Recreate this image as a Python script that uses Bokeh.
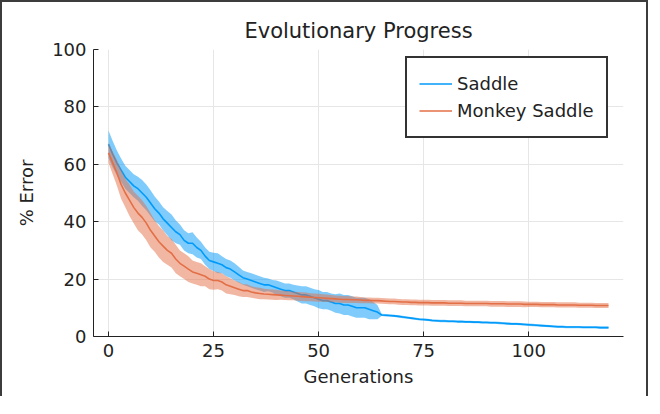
from bokeh.plotting import figure
from bokeh.models import Range1d, FixedTicker, Legend, LegendItem
from bokeh.embed import file_html
from bokeh.resources import INLINE

# ---------------- data ----------------
generations = list(range(120))

saddle_mean = [
    67.0, 63.5, 60.5, 58.0, 55.5, 54.0, 52.5, 51.5, 50.0, 48.5,
    46.5, 44.5, 43.0, 41.0, 39.5, 38.0, 36.5, 35.5, 33.5, 32.5,
    32.5, 31.0, 30.0, 28.0, 26.5, 26.0, 25.5, 25.0, 24.0, 23.5,
    22.5, 21.5, 20.5, 20.0, 19.5, 19.0, 18.5, 18.0, 18.0, 17.5,
    17.0, 16.5, 16.0, 16.0, 15.5, 15.0, 14.5, 14.5, 14.0, 13.5,
    13.0, 12.5, 12.5, 12.0, 11.5, 11.5, 11.0, 11.0, 10.5, 10.0,
    10.0, 10.0, 9.5, 9.0, 8.5, 7.5, 7.4, 7.3, 7.2, 7.0,
    6.8, 6.6, 6.4, 6.2, 6.0, 5.9, 5.8, 5.6, 5.5, 5.4,
    5.4, 5.3, 5.3, 5.2, 5.2, 5.1, 5.1, 5.0, 5.0, 4.9,
    4.9, 4.8, 4.8, 4.7, 4.6, 4.5, 4.4, 4.4, 4.3, 4.2,
    4.1, 4.0, 3.9, 3.8, 3.7, 3.6, 3.5, 3.4, 3.4, 3.3,
    3.3, 3.3, 3.3, 3.2, 3.2, 3.2, 3.2, 3.1, 3.1, 3.1,
]
saddle_err = [
    4.8, 4.6, 4.3, 4.0, 4.0, 4.0, 4.0, 4.2, 4.5, 4.5,
    4.5, 4.3, 4.0, 4.0, 4.2, 4.5, 4.0, 3.5, 3.5, 3.5,
    3.8, 3.5, 3.0, 3.0, 3.0, 3.2, 3.5, 3.0, 3.0, 3.0,
    3.0, 2.8, 2.5, 2.5, 2.5, 2.5, 2.5, 2.5, 2.2, 2.2,
    2.5, 2.5, 2.5, 2.5, 2.5, 2.8, 3.0, 3.0, 3.0, 3.0,
    3.2, 3.0, 3.0, 3.0, 3.2, 3.5, 3.5, 3.5, 3.5, 3.5,
    3.5, 3.5, 3.5, 3.0, 2.5, 0.4, 0.4, 0.4, 0.4, 0.4,
    0.4, 0.4, 0.4, 0.4, 0.4, 0.4, 0.4, 0.4, 0.4, 0.4,
    0.4, 0.4, 0.4, 0.4, 0.4, 0.4, 0.4, 0.4, 0.4, 0.4,
    0.4, 0.4, 0.4, 0.4, 0.4, 0.4, 0.4, 0.4, 0.4, 0.4,
    0.4, 0.4, 0.4, 0.4, 0.4, 0.4, 0.4, 0.4, 0.4, 0.4,
    0.4, 0.4, 0.4, 0.4, 0.4, 0.4, 0.4, 0.4, 0.4, 0.4,
]
monkey_mean = [
    64.0, 60.5, 57.0, 53.0, 50.0, 47.5, 45.0, 43.0, 41.5, 39.5,
    37.0, 35.0, 33.0, 31.5, 30.0, 29.0, 27.0, 25.5, 24.5, 23.5,
    22.5, 22.0, 21.5, 21.0, 20.0, 19.5, 19.5, 19.0, 18.0, 17.5,
    17.0, 16.5, 16.0, 16.0, 15.5, 15.2, 15.0, 14.8, 14.7, 14.6,
    14.5, 14.4, 14.3, 14.2, 14.1, 14.0, 13.9, 13.8, 13.7, 13.6,
    13.5, 13.4, 13.3, 13.2, 13.1, 13.0, 12.9, 12.9, 12.8, 12.8,
    12.7, 12.6, 12.6, 12.5, 12.5, 12.4, 12.3, 12.2, 12.2, 12.1,
    12.0, 12.0, 11.9, 11.9, 11.8, 11.8, 11.8, 11.7, 11.7, 11.7,
    11.7, 11.6, 11.6, 11.6, 11.6, 11.5, 11.5, 11.5, 11.5, 11.5,
    11.5, 11.4, 11.4, 11.4, 11.4, 11.3, 11.3, 11.3, 11.3, 11.2,
    11.2, 11.2, 11.2, 11.1, 11.1, 11.1, 11.1, 11.0, 11.0, 11.0,
    11.0, 11.0, 10.9, 10.9, 10.9, 10.9, 10.8, 10.8, 10.8, 10.8,
]
monkey_err = [
    3.5, 4.0, 4.5, 5.0, 5.0, 5.5, 5.5, 6.0, 6.0, 6.0,
    6.0, 5.5, 5.5, 5.5, 5.0, 5.0, 5.0, 4.5, 4.5, 4.5,
    4.0, 4.0, 4.0, 3.5, 3.5, 3.2, 3.0, 3.0, 3.0, 2.8,
    2.5, 2.5, 2.2, 2.2, 2.0, 2.0, 2.0, 1.8, 1.8, 1.8,
    1.8, 1.6, 1.6, 1.6, 1.5, 1.5, 1.5, 1.5, 1.4, 1.4,
    1.4, 1.3, 1.3, 1.3, 1.2, 1.2, 1.2, 1.2, 1.1, 1.1,
    1.1, 1.0, 1.0, 1.0, 1.0, 1.0, 1.0, 1.0, 1.0, 1.0,
    1.0, 1.0, 1.0, 1.0, 1.0, 1.0, 1.0, 1.0, 1.0, 1.0,
    1.0, 1.0, 1.0, 1.0, 1.0, 1.0, 1.0, 1.0, 1.0, 1.0,
    1.0, 1.0, 1.0, 1.0, 1.0, 1.0, 1.0, 1.0, 1.0, 1.0,
    0.9, 0.9, 0.9, 0.9, 0.9, 0.9, 0.9, 0.9, 0.9, 0.9,
    0.9, 0.9, 0.9, 0.9, 0.9, 0.9, 0.9, 0.9, 0.9, 0.9,
]

x_ticks = [0, 25, 50, 75, 100]
y_ticks = [0, 20, 40, 60, 80, 100]
series_names = ["Saddle", "Monkey Saddle"]

BLUE = "#009AFA"
ORANGE = "#E36F47"
FONT = "DejaVu Sans"
TXT = "#222222"

# ---------------- figure ----------------
p = figure(
    width=648, height=396,
    output_backend="svg", toolbar_location=None,
    x_range=Range1d(-3.57, 122.57), y_range=Range1d(0, 100),
    min_border_left=91, min_border_right=27,
    min_border_top=47, min_border_bottom=62,
    title="Evolutionary Progress",
)
p.styles = {
    "border-left": "2px solid #3c3c3c",
    "border-top": "2px solid #3c3c3c",
    "border-right": "2px solid #3c3c3c",
}
p.outline_line_color = None
p.background_fill_color = "white"
p.border_fill_color = "white"

p.title.align = "center"
p.title.text_font = FONT
p.title.text_font_style = "normal"
p.title.text_font_size = "21px"
p.title.text_color = TXT
p.title.standoff = 14

for ax in (p.xaxis[0], p.yaxis[0]):
    ax.axis_line_color = "#222222"
    ax.axis_line_width = 1
    ax.major_tick_in = 5
    ax.major_tick_out = 0
    ax.major_tick_line_color = "#222222"
    ax.minor_tick_line_color = None
    ax.major_label_text_font = FONT
    ax.major_label_text_font_size = "18px"
    ax.major_label_text_color = TXT
    ax.axis_label_text_font = FONT
    ax.axis_label_text_font_size = "18px"
    ax.axis_label_text_font_style = "normal"
    ax.axis_label_text_color = TXT
    ax.major_label_standoff = 7

p.xaxis.ticker = FixedTicker(ticks=x_ticks)
p.yaxis.ticker = FixedTicker(ticks=y_ticks)
p.xaxis.axis_label = "Generations"
p.yaxis.axis_label = "% Error"
p.xaxis.axis_label_standoff = 6
p.yaxis.axis_label_standoff = 12

p.grid.grid_line_color = "#e6e6e6"
p.grid.grid_line_width = 1
p.xgrid.ticker = FixedTicker(ticks=x_ticks)
p.ygrid.ticker = FixedTicker(ticks=y_ticks)

s_lo = [m - e for m, e in zip(saddle_mean, saddle_err)]
s_hi = [m + e for m, e in zip(saddle_mean, saddle_err)]
m_lo = [m - e for m, e in zip(monkey_mean, monkey_err)]
m_hi = [m + e for m, e in zip(monkey_mean, monkey_err)]

p.varea(x=generations, y1=s_lo, y2=s_hi, fill_color=BLUE, fill_alpha=0.5)
l1 = p.line(generations, saddle_mean, line_color=BLUE, line_width=1.6)
p.varea(x=generations, y1=m_lo, y2=m_hi, fill_color=ORANGE, fill_alpha=0.5)
l2 = p.line(generations, monkey_mean, line_color=ORANGE, line_width=1.6)

legend = Legend(
    items=[LegendItem(label=series_names[0], renderers=[l1]),
           LegendItem(label=series_names[1], renderers=[l2])],
    location=(312, 198),
    label_text_font=FONT, label_text_font_size="18px", label_text_color=TXT,
    glyph_width=33, glyph_height=27, label_height=27, label_standoff=5,
    padding=12, spacing=0, margin=0,
    border_line_color="#333333", border_line_width=2, border_line_alpha=1.0,
    background_fill_color="white", background_fill_alpha=1.0,
)
p.add_layout(legend, "center")

open("out.html", "w").write(file_html(p, INLINE))
